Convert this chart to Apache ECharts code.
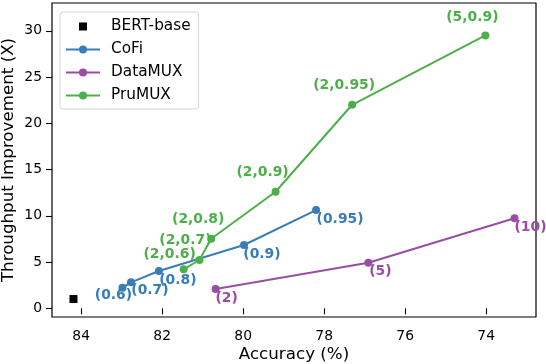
<!DOCTYPE html>
<html>
<head>
<meta charset="utf-8">
<script src="https://cdn.jsdelivr.net/npm/echarts@6/dist/echarts.min.js"></script>
<style>
  html, body { margin: 0; padding: 0; background: #fff; }
  #chart { width: 546px; height: 364px; }
</style>
</head>
<body>
<div id="chart"></div>
<script>
// data (accuracy %, throughput x)
const bertAcc = [84.19]
const bertSpeed = [1.0]

const cofiAcc = [82.98, 82.77, 82.08, 79.98, 78.2]
const cofiSpeed = [2.23, 2.81, 4.03, 6.84, 10.62]
const cofiLabels = ['(0.6)', '(0.7)', '(0.8)', '(0.9)', '(0.95)']

const dmuxAcc = [80.68, 76.91, 73.3]
const dmuxSpeed = [2.09, 4.93, 9.73]
const dmuxLabels = ['(2)', '(5)', '(10)']

const pruAcc = [81.47, 81.08, 80.79, 79.2, 77.31, 74.02]
const pruSpeed = [4.21, 5.22, 7.52, 12.6, 22.0, 29.5]
const pruLabels = ['(2,0.6)', '(2,0.7)', '(2,0.8)', '(2,0.9)', '(2,0.95)', '(5,0.9)']

const xTicks = [74, 76, 78, 80, 82, 84]
const yTicks = [0, 5, 10, 15, 20, 25, 30]

// label centre offsets (px, from point centre)
const cofiOff = [[-9, 8], [19, 8], [19, 9], [18, 9], [24, 9]]
const dmuxOff = [[11, 9], [12, 9], [16, 9]]
const pruOff = [[-14, -15], [-14, -20], [-13, -19], [-13, -19], [-8, -19], [-13, -18]]

const BLUE = '#377eb8'
const PURPLE = '#984ea3'
const GREEN = '#4daf4a'
const FONT = 'DejaVu Sans'
const SYM = 8

function points(xs, ys, labels, offs, color) {
  return xs.map((x, i) => ({
    value: [x, ys[i]],
    label: labels
      ? {
          show: true,
          formatter: labels[i],
          // position is relative to the symbol box top-left
          position: [SYM / 2 + offs[i][0], SYM / 2 + offs[i][1]],
          align: 'center',
          verticalAlign: 'middle',
          color: color,
          fontFamily: FONT,
          fontWeight: 'bold',
          fontSize: 13.9,
        }
      : undefined,
  }))
}

function lineSeries(name, data, color) {
  return {
    name,
    type: 'line',
    data,
    symbol: 'circle',
    symbolSize: SYM,
    itemStyle: { color },
    lineStyle: { color, width: 2 },
    labelLayout: { hideOverlap: false },
    z: 3,
  }
}

const chart = echarts.init(document.getElementById('chart'), null, { renderer: 'canvas' })

const option = {
  animation: false,
  backgroundColor: '#fff',
  textStyle: { fontFamily: FONT },
  grid: {
    left: 52,
    right: 10,
    top: 3,
    bottom: 47,
    outerBoundsMode: 'none',
    show: true,
    borderColor: '#000',
    borderWidth: 1.2,
    backgroundColor: 'transparent',
  },
  legend: {
    left: 60,
    top: 12,
    orient: 'vertical',
    backgroundColor: 'rgba(255,255,255,0.8)',
    borderColor: '#d5d5d5',
    borderWidth: 1,
    borderRadius: 3,
    padding: [7, 8, 6, 5],
    itemWidth: 34,
    itemHeight: 10,
    itemGap: 8,
    textStyle: { fontFamily: FONT, fontSize: 15.3, color: '#000', padding: [0, 0, 0, 6] },
    data: [
      // square drawn in the middle of a wide, otherwise empty path box
      { name: 'BERT-base', icon: 'path://M0,0L0.01,0M34,10L34,10.01M13,1L21,1L21,9L13,9Z' },
      { name: 'CoFi' },
      { name: 'DataMUX' },
      { name: 'PruMUX' },
    ],
  },
  xAxis: {
    type: 'value',
    inverse: true,
    min: 72.77,
    max: 84.72,
    name: 'Accuracy (%)',
    nameLocation: 'middle',
    nameGap: 29,
    nameMoveOverlap: false,
    nameTextStyle: { fontFamily: FONT, fontSize: 16.7, color: '#000' },
    axisLine: { show: false },
    splitLine: { show: false },
    axisTick: { show: true, length: 6, lineStyle: { color: '#000', width: 1.1 }, customValues: xTicks },
    axisLabel: { fontFamily: FONT, fontSize: 13.9, color: '#000', margin: 12, customValues: xTicks },
  },
  yAxis: {
    type: 'value',
    min: -0.94,
    max: 33.0,
    name: 'Throughput Improvement (X)',
    nameLocation: 'middle',
    nameGap: 35,
    nameMoveOverlap: false,
    nameTextStyle: { fontFamily: FONT, fontSize: 16.7, color: '#000' },
    axisLine: { show: false },
    splitLine: { show: false },
    axisTick: { show: true, length: 6, lineStyle: { color: '#000', width: 1.1 }, customValues: yTicks },
    axisLabel: { fontFamily: FONT, fontSize: 13.9, color: '#000', margin: 10, customValues: yTicks },
  },
  series: [
    {
      name: 'BERT-base',
      type: 'scatter',
      symbol: 'rect',
      symbolSize: 8,
      itemStyle: { color: '#000', opacity: 1 },
      data: points(bertAcc, bertSpeed, null, null, '#000'),
    },
    lineSeries('CoFi', points(cofiAcc, cofiSpeed, cofiLabels, cofiOff, BLUE), BLUE),
    lineSeries('DataMUX', points(dmuxAcc, dmuxSpeed, dmuxLabels, dmuxOff, PURPLE), PURPLE),
    lineSeries('PruMUX', points(pruAcc, pruSpeed, pruLabels, pruOff, GREEN), GREEN),
  ],
}

chart.setOption(option)
</script>
</body>
</html>
